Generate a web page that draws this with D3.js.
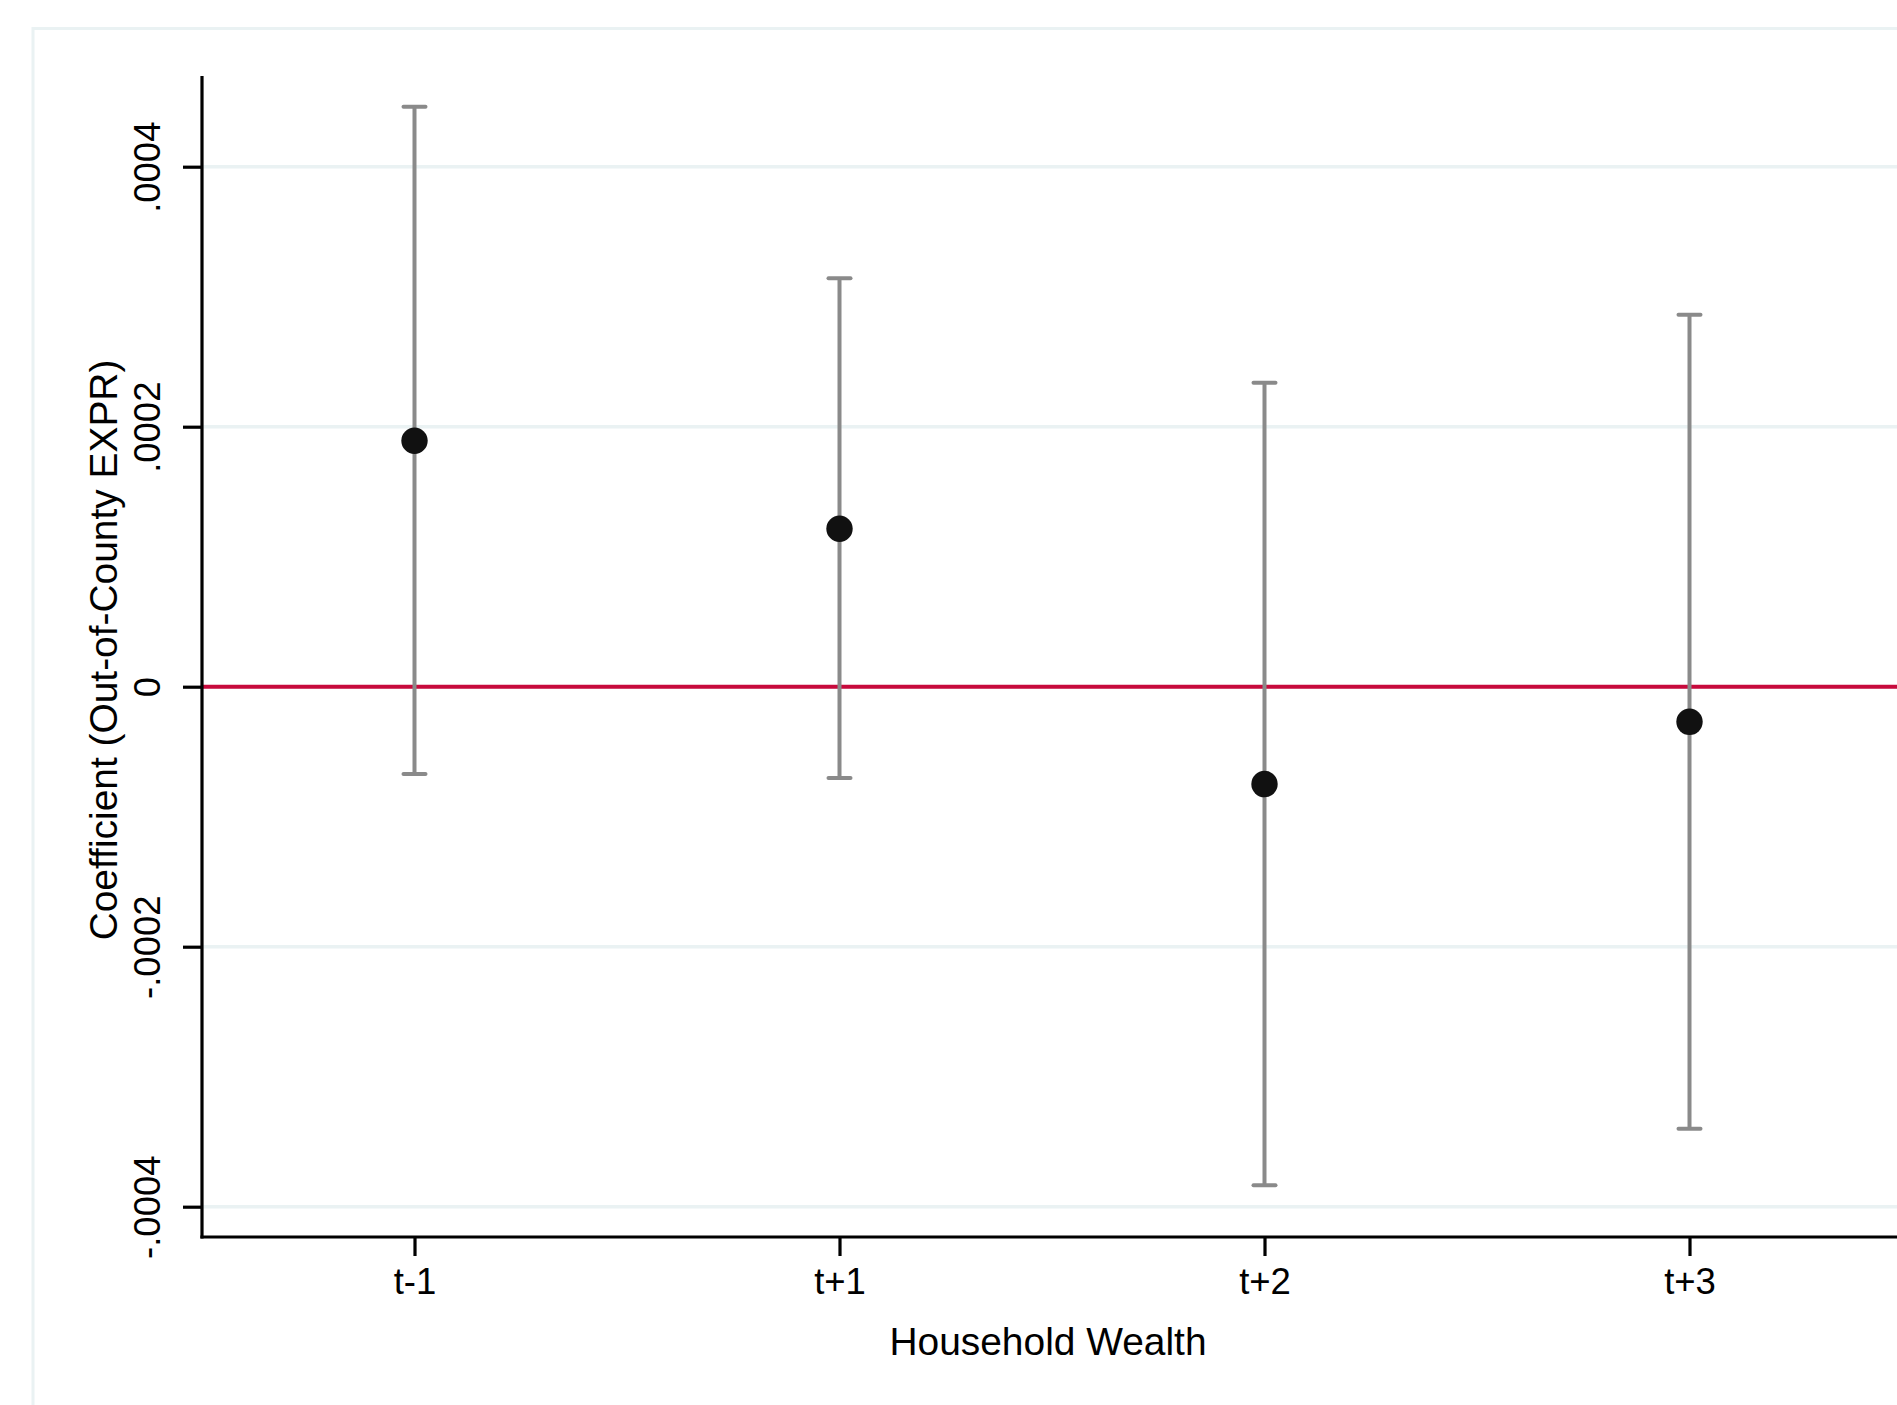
<!DOCTYPE html>
<html>
<head>
<meta charset="utf-8">
<script src="https://cdn.jsdelivr.net/npm/d3@7"></script>
<style>
  html, body { margin: 0; padding: 0; background: #ffffff; }
  svg { display: block; }
  text { font-family: "Liberation Sans", Arial, Helvetica, sans-serif; fill: #000; }
</style>
</head>
<body>
<svg id="chart" width="1897" height="1405"></svg>
<script>
// ---- data ----
const categories = ["t-1", "t+1", "t+2", "t+3"];
const coef   = [0.0001892, 0.0001215, -0.0000749, -0.0000270];
const ciLow  = [-0.0000672, -0.0000702, -0.0003835, -0.0003400];
const ciHigh = [0.0004462, 0.0003141, 0.0002339, 0.0002861];
const yTickValues = [-0.0004, -0.0002, 0, 0.0002, 0.0004];
const yTickLabels = ["-.0004", "-.0002", "0", ".0002", ".0004"];
const xTitle = "Household Wealth";
const yTitle = "Coefficient (Out-of-County EXPR)";

// ---- layout ----
const W = 1897, H = 1405;
const plotLeft = 202, plotRight = 1902, plotTop = 76, plotBottom = 1237;
const svg = d3.select("#chart");
svg.append("rect").attr("x", 0).attr("y", 0).attr("width", W).attr("height", H).attr("fill", "#ffffff");

// outer graph frame (cropped on the right and bottom)
svg.append("rect")
  .attr("x", 33).attr("y", 28.5)
  .attr("width", W + 50).attr("height", H + 50)
  .attr("fill", "none").attr("stroke", "#eaf2f3").attr("stroke-width", 3);

const x = d3.scaleLinear().domain([0.5, categories.length + 0.5]).range([plotLeft, plotRight]);
const y = d3.scaleLinear().domain([-0.0004, 0.0004]).range([1206.7, 166.7]);

// gridlines
svg.append("g").selectAll("line").data(yTickValues).join("line")
  .attr("x1", plotLeft).attr("x2", W + 10)
  .attr("y1", d => y(d)).attr("y2", d => y(d))
  .attr("stroke", "#eaf2f3").attr("stroke-width", 3.5);

// zero reference line
svg.append("line")
  .attr("x1", plotLeft).attr("x2", W + 10)
  .attr("y1", y(0)).attr("y2", y(0))
  .attr("stroke", "#c70a3c").attr("stroke-width", 4);

// error bars
const idx = categories.map((c, i) => i);
const eb = svg.append("g").attr("stroke", "#8a8a8a").attr("stroke-width", 4);
eb.selectAll("line.v").data(idx).join("line").attr("class", "v")
  .attr("x1", i => x(i + 1)).attr("x2", i => x(i + 1))
  .attr("y1", i => y(ciLow[i])).attr("y2", i => y(ciHigh[i]));
const capHalf = 11;
eb.selectAll("line.ct").data(idx).join("line").attr("class", "ct")
  .attr("stroke-linecap", "round")
  .attr("x1", i => x(i + 1) - capHalf).attr("x2", i => x(i + 1) + capHalf)
  .attr("y1", i => y(ciHigh[i])).attr("y2", i => y(ciHigh[i]));
eb.selectAll("line.cb").data(idx).join("line").attr("class", "cb")
  .attr("stroke-linecap", "round")
  .attr("x1", i => x(i + 1) - capHalf).attr("x2", i => x(i + 1) + capHalf)
  .attr("y1", i => y(ciLow[i])).attr("y2", i => y(ciLow[i]));

// points
svg.append("g").selectAll("circle").data(idx).join("circle")
  .attr("cx", i => x(i + 1)).attr("cy", i => y(coef[i]))
  .attr("r", 13.2).attr("fill", "#111111");

// y axis
const yAxis = d3.axisLeft(y).tickValues(yTickValues).tickSize(19)
  .tickFormat((d, i) => yTickLabels[i]);
const gy = svg.append("g").attr("transform", `translate(${plotLeft},0)`).call(yAxis);
gy.select(".domain").remove();
gy.selectAll(".tick line").attr("stroke", "#000").attr("stroke-width", 3.2);
gy.selectAll(".tick text")
  .attr("x", null).attr("dy", null)
  .attr("transform", "translate(-42,0) rotate(-90)")
  .attr("text-anchor", "middle")
  .style("font-size", "36.5px")
  .style("font-family", "'Liberation Sans', Arial, sans-serif")
  .attr("fill", "#000");
svg.append("line")
  .attr("x1", plotLeft).attr("x2", plotLeft)
  .attr("y1", plotTop).attr("y2", plotBottom + 1.6)
  .attr("stroke", "#000").attr("stroke-width", 3.2);

// x axis
const xAxis = d3.axisBottom(x).tickValues(idx.map(i => i + 1)).tickSize(19)
  .tickFormat((d) => categories[d - 1]);
const gx = svg.append("g").attr("transform", `translate(0,${plotBottom})`).call(xAxis);
gx.select(".domain").remove();
gx.selectAll(".tick line").attr("stroke", "#000").attr("stroke-width", 3.2);
gx.selectAll(".tick text")
  .attr("y", 57).attr("dy", null)
  .attr("text-anchor", "middle")
  .style("font-size", "36.5px")
  .style("font-family", "'Liberation Sans', Arial, sans-serif")
  .attr("fill", "#000");
svg.append("line")
  .attr("x1", plotLeft - 1.6).attr("x2", W + 10)
  .attr("y1", plotBottom).attr("y2", plotBottom)
  .attr("stroke", "#000").attr("stroke-width", 3.2);

// axis titles
svg.append("text")
  .attr("x", 1048).attr("y", 1355)
  .attr("text-anchor", "middle")
  .style("font-size", "38.9px")
  .text(xTitle);
svg.append("text")
  .attr("transform", "translate(117,650) rotate(-90)")
  .attr("text-anchor", "middle")
  .style("font-size", "38.9px")
  .text(yTitle);
</script>
</body>
</html>
